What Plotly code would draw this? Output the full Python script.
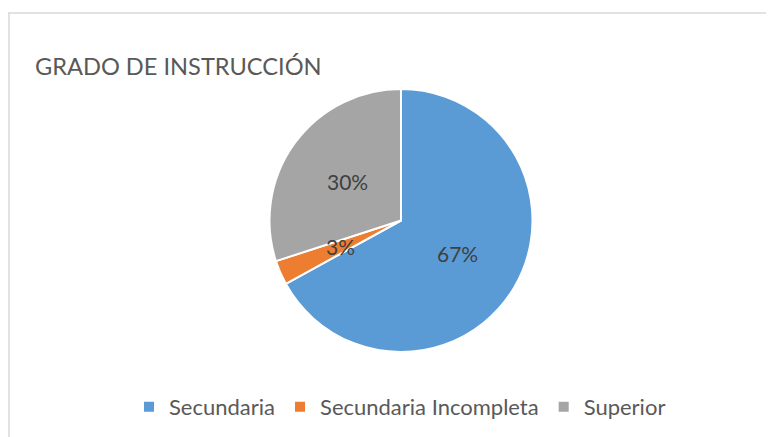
import math
import plotly.graph_objects as go

categorias = ["Secundaria", "Secundaria Incompleta", "Superior"]
porcentajes = [67, 3, 30]
colores = ["#5B9BD5", "#ED7D31", "#A5A5A5"]

W, H = 774, 437
# page puts the figure 8px in from the top-left, so everything is shifted back by 8
OFF = 8
cx, cy, R = 401 - OFF, 220.5 - OFF, 131.5

fig = go.Figure()
fig.add_trace(go.Pie(
    labels=categorias,
    values=porcentajes,
    sort=False,
    direction="clockwise",
    rotation=0,
    marker=dict(colors=colores, line=dict(color="white", width=2)),
    textinfo="none",
    domain=dict(x=[(cx - R) / W, (cx + R) / W], y=[1 - (cy + R) / H, 1 - (cy - R) / H]),
    hoverinfo="label+percent",
))

# labels like Excel: halfway out along the middle of each slice
total = sum(porcentajes)
acum = 0
for v in porcentajes:
    mid = (acum + v / 2) / total * 2 * math.pi
    acum += v
    px = cx + 0.5 * R * math.sin(mid)
    py = cy - 0.5 * R * math.cos(mid)
    fig.add_annotation(x=px / W, y=1 - py / H, xref="paper", yref="paper",
                       text=f"{round(v / total * 100)}%", showarrow=False,
                       font=dict(family="Lato, sans-serif", size=21, color="#404040"))

fig.update_layout(
    width=W, height=H,
    margin=dict(l=0, r=0, t=0, b=0),
    paper_bgcolor="white",
    plot_bgcolor="white",
    title=dict(text="GRADO DE INSTRUCCIÓN", x=(35 - OFF) / W, xanchor="left",
               y=1 - (67 - OFF) / H, yanchor="middle",
               font=dict(family="Lato, sans-serif", size=23.6, color="#595959")),
    legend=dict(orientation="h", x=(400 - OFF) / W, xanchor="center", y=1 - (407 - OFF) / H, yanchor="middle",
                font=dict(family="Lato, sans-serif", size=22, color="#595959"),
                itemwidth=30, traceorder="normal"),
    shapes=[
        dict(type="line", xref="paper", yref="paper", x0=0, x1=1, y0=1 - (13 - OFF) / H, y1=1 - (13 - OFF) / H,
             line=dict(color="#D9D9D9", width=1.5)),
        dict(type="line", xref="paper", yref="paper", x0=1 / W, x1=1 / W, y0=0, y1=1 - (13 - OFF) / H,
             line=dict(color="#D9D9D9", width=1.5)),
    ],
)

fig.write_html("out.html")
